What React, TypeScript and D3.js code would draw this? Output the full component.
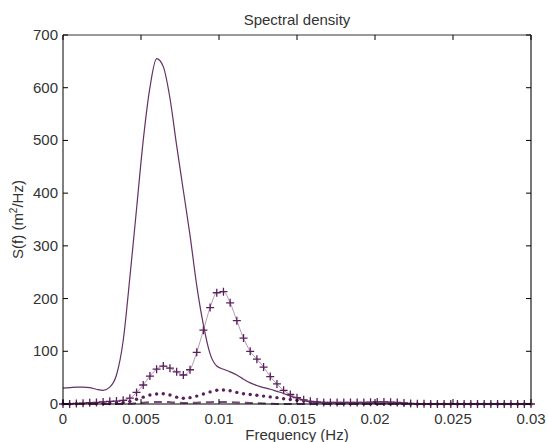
import React, { useEffect, useRef } from "react";
import * as d3 from "d3";

// frequency grid (Hz), 71 bins up to 0.03
const freqStep = 0.03 / 70;
const freqs = d3.range(71).map((i) => i * freqStep);

// S(f) values, one per bin
const solidVals = [
  30, 31, 32, 32, 31, 28, 26, 32, 55, 120,
  240, 370, 500, 600, 655, 640, 580, 490, 405, 320,
  225, 150, 95, 72, 66, 61, 55, 47, 40, 35,
  31, 28, 24, 20, 15, 11, 7, 4, 3, 2,
  2, 2, 2, 2, 2, 2, 2, 1.5, 1.5, 1.5,
  1.5, 1, 0.5, 0.5, 0.5, 0.3, 0.3, 0.3, 0.2, 0.2,
  0.2, 0.1, 0.1, 0.1, 0.1, 0.1, 0, 0, 0, 0,
  0,
];
const crossVals = [
  0, 0, 1, 1.5, 2.5, 3, 4, 5, 5.5, 7,
  11, 22, 36, 53, 66, 72, 68, 61, 55, 65,
  98, 140, 183, 211, 213, 192, 158, 125, 100, 85,
  70, 52, 38, 26, 18, 12, 8, 5, 4, 3,
  3, 3, 3, 3, 3, 3, 3.5, 4, 4, 3.5,
  3, 2, 1, 0.5, 0.5, 0, 0, 0, 0, 0,
  0, 0, 0, 0, 0, 0, 0, 0, 0, 0,
  0,
];
const dotVals = [
  0, 0, 0.5, 0.5, 1, 1, 1.5, 2, 2.5, 3,
  5, 9, 13, 17, 19, 19.5, 17, 13, 11, 12,
  15, 19, 23, 26, 26.5, 25, 22, 19.5, 18, 16.5,
  15, 13.5, 12, 10, 8.5, 7, 5.5, 4, 3, 2,
  1.5, 1, 1, 1, 1, 1, 0.5, 0.5, 0.5, 0.5,
  0.5, 0, 0, 0, 0, 0, 0, 0, 0, 0,
  0, 0, 0, 0, 0, 0, 0, 0, 0, 0,
  0,
];
const dashVals = [
  0, 0, 0, 0, 0, 0, 0, 0, 0, 0,
  0.5, 1.5, 2.5, 3.5, 4, 4, 3.5, 2.5, 2, 2,
  2.5, 3, 3.5, 4, 4, 3.5, 3, 2.5, 2, 1.5,
  1, 0.5, 0, 0, 0, 0, 0, 0, 0, 0,
  0, 0, 0, 0, 0, 0, 0, 0, 0, 0,
  0, 0, 0, 0, 0, 0, 0, 0, 0, 0,
  0, 0, 0, 0, 0, 0, 0, 0, 0, 0,
  0,
];

const xTicks = [0, 0.005, 0.01, 0.015, 0.02, 0.025, 0.03];
const xTickLabels = ["0", "0.005", "0.01", "0.015", "0.02", "0.025", "0.03"];
const yTicks = [0, 100, 200, 300, 400, 500, 600, 700];

const W = 548;
const H = 442;
const FONT = "'Liberation Sans', Arial, Helvetica, sans-serif";
const LINE = "#5a1e5a";

export default function App() {
  const ref = useRef<SVGSVGElement>(null);

  useEffect(() => {
    const svg = d3.select(ref.current);
    svg.selectAll("*").remove();

    const left = 63, right = 531, top = 35, bottom = 404;
    const x = d3.scaleLinear().domain([0, 0.03]).range([left, right]);
    const y = d3.scaleLinear().domain([0, 700]).range([bottom, top]);

    svg.append("rect").attr("width", W).attr("height", H).attr("fill", "#fff");

    const plot = svg.append("g");
    const pts = (vals: number[]) => freqs.map((f, i) => [f, vals[i]] as [number, number]);

    const line = d3
      .line<[number, number]>()
      .x((d) => x(d[0]))
      .y((d) => y(d[1]))
      .curve(d3.curveMonotoneX);

    // dashed series
    plot
      .append("path")
      .attr("d", line(pts(dashVals)))
      .attr("fill", "none")
      .attr("stroke", LINE)
      .attr("stroke-opacity", 0.8)
      .attr("stroke-width", 2)
      .attr("stroke-dasharray", "8 5");

    // dotted series
    plot
      .selectAll("circle.dot")
      .data(pts(dotVals))
      .join("circle")
      .attr("class", "dot")
      .attr("cx", (d) => x(d[0]))
      .attr("cy", (d) => y(d[1]))
      .attr("r", 1.7)
      .attr("fill", LINE);

    // crosses with thin connecting line
    plot
      .append("path")
      .attr("d", line(pts(crossVals)))
      .attr("fill", "none")
      .attr("stroke", LINE)
      .attr("stroke-opacity", 0.45)
      .attr("stroke-width", 1);
    const s = 4;
    plot
      .selectAll("path.cross")
      .data(pts(crossVals))
      .join("path")
      .attr("class", "cross")
      .attr("d", (d) => {
        const cx = x(d[0]), cy = y(d[1]);
        return `M${cx - s},${cy}H${cx + s}M${cx},${cy - s}V${cy + s}`;
      })
      .attr("stroke", LINE)
      .attr("stroke-width", 1.3)
      .attr("fill", "none");

    // solid series
    plot
      .append("path")
      .attr("d", line(pts(solidVals)))
      .attr("fill", "none")
      .attr("stroke", "#633063")
      .attr("stroke-width", 1.2);

    // frame
    svg.append("line").attr("x1", left).attr("x2", right).attr("y1", top).attr("y2", top)
      .attr("stroke", "#777").attr("stroke-width", 1.5);
    svg.append("line").attr("x1", right).attr("x2", right).attr("y1", top).attr("y2", bottom)
      .attr("stroke", "#777").attr("stroke-width", 2);
    svg.append("line").attr("x1", left).attr("x2", right).attr("y1", bottom).attr("y2", bottom)
      .attr("stroke", "#000").attr("stroke-width", 1);
    svg.append("line").attr("x1", left).attr("x2", left).attr("y1", top).attr("y2", bottom)
      .attr("stroke", "#000").attr("stroke-width", 1);

    const tl = 5;
    const ticks = svg.append("g").attr("stroke", "#000").attr("stroke-width", 1);
    xTicks.forEach((t) => {
      ticks.append("line").attr("x1", x(t)).attr("x2", x(t)).attr("y1", bottom).attr("y2", bottom - tl);
      ticks.append("line").attr("x1", x(t)).attr("x2", x(t)).attr("y1", top).attr("y2", top + tl);
    });
    yTicks.forEach((t) => {
      ticks.append("line").attr("x1", left).attr("x2", left + tl).attr("y1", y(t)).attr("y2", y(t));
      ticks.append("line").attr("x1", right).attr("x2", right - tl).attr("y1", y(t)).attr("y2", y(t));
    });

    const txt = svg.append("g").attr("font-family", FONT).attr("font-size", 15).attr("fill", "#333");
    xTicks.forEach((t, i) => {
      txt.append("text").attr("x", x(t)).attr("y", bottom + 20).attr("text-anchor", "middle").text(xTickLabels[i]);
    });
    yTicks.forEach((t) => {
      txt.append("text").attr("x", left - 5).attr("y", y(t) + 5).attr("text-anchor", "end").text(String(t));
    });

    const midX = (left + right) / 2;
    txt.append("text").attr("x", midX).attr("y", 25).attr("text-anchor", "middle").text("Spectral density");
    txt.append("text").attr("x", midX).attr("y", 440).attr("text-anchor", "middle").text("Frequency (Hz)");

    const yl = txt
      .append("text")
      .attr("transform", `translate(23,${(top + bottom) / 2}) rotate(-90)`)
      .attr("text-anchor", "middle");
    yl.append("tspan").text("S(f) (m");
    yl.append("tspan").attr("dy", -6).attr("font-size", 10).text("2");
    yl.append("tspan").attr("dy", 6).text("/Hz)");
  }, []);

  return (
    <svg
      ref={ref}
      width={W}
      height={H}
      style={{ position: "absolute", left: 0, top: 0 }}
    />
  );
}
